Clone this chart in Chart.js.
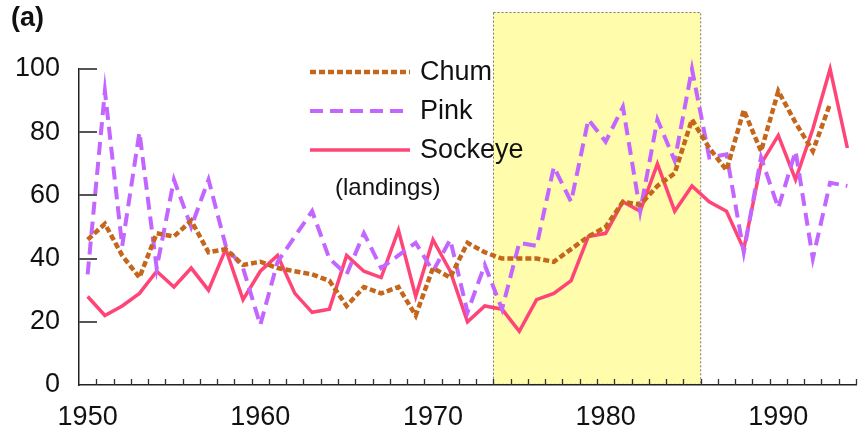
<!DOCTYPE html>
<html>
<head>
<meta charset="utf-8">
<script src="https://cdn.jsdelivr.net/npm/chart.js@4.4.0/dist/chart.umd.min.js"></script>
<style>
  body { margin: 0; background: #fff; }
  canvas { display: block; }
</style>
</head>
<body>
<canvas id="salmonChart" width="858" height="428"></canvas>
<script>
// données (indices de débarquements)
let years = ['1950','1951','1952','1953','1954','1955','1956','1957','1958','1959',
             '1960','1961','1962','1963','1964','1965','1966','1967','1968','1969',
             '1970','1971','1972','1973','1974','1975','1976','1977','1978','1979',
             '1980','1981','1982','1983','1984','1985','1986','1987','1988','1989',
             '1990','1991','1992','1993','1994'];

let chum = [46, 51, 41, 34, 48, 47, 52, 42, 43, 38,
            39, 37, 36, 35, 33, 25, 31, 29, 31, 22,
            37, 34, 45, 42, 40, 40, 40, 39, 43, 47,
            50, 58, 57, 63, 67, 84, 75, 68, 87, 74,
            93, 83, 74, 89, null];

let pink = [35, 93, 44, 80, 37, 65, 50, 65, 44, 37,
            19, 39, 47, 55, 40, 35, 48, 37, 41, 45,
            36, 46, 23, 38, 24, 45, 44, 69, 58, 84,
            77, 88, 55, 84, 71, 100, 72, 73, 42, 72,
            56, 74, 40, 64, 63];

let sockeye = [28, 22, 25, 29, 36, 31, 37, 30, 43, 27,
               36, 41, 29, 23, 24, 41, 36, 34, 49, 28,
               46, 36, 20, 25, 24, 17, 27, 29, 33, 47,
               48, 58, 55, 70, 55, 63, 58, 55, 43, 70,
               79, 65, 81, 100, 75];

let yTicks = [0, 20, 40, 60, 80, 100];
let xLabels = ['1950', '1960', '1970', '1980', '1990'];
let shadeFrom = '1974';   // période surlignée en jaune
let shadeTo = '1985';
let shadeTop = 118;

const FONT = "'Liberation Sans', Arial, Helvetica, sans-serif";

// rectangle jaune en pointillés, dessiné sous les axes
const shadePlugin = {
    id: 'shade',
    beforeDraw(chart) {
        let ctx = chart.ctx, x = chart.scales.x, y = chart.scales.y;
        let left = x.getPixelForValue(years.indexOf(shadeFrom) - 0.5);
        let right = x.getPixelForValue(years.indexOf(shadeTo) + 0.5);
        let top = y.getPixelForValue(shadeTop);
        let bottom = y.getPixelForValue(0);
        ctx.save();
        ctx.fillStyle = '#fffcab';
        ctx.fillRect(left, top, right - left, bottom - top);
        ctx.strokeStyle = '#777';
        ctx.lineWidth = 1;
        ctx.setLineDash([2, 2]);
        ctx.strokeRect(Math.round(left) + 0.5, Math.round(top) + 0.5, right - left, bottom - top - 1);
        ctx.restore();
    }
};

// petites graduations tournées vers l'intérieur
const ticksPlugin = {
    id: 'inTicks',
    afterDraw(chart) {
        let ctx = chart.ctx, x = chart.scales.x, y = chart.scales.y;
        let area = chart.chartArea;
        ctx.save();
        ctx.strokeStyle = '#333';
        ctx.lineWidth = 1.3;
        ctx.beginPath();
        for (let k = 0; k < years.length; k++) {
            let px = Math.round(x.getPixelForValue(k + 0.5)) + 0.5;
            ctx.moveTo(px, area.bottom);
            ctx.lineTo(px, area.bottom - 6);
        }
        ctx.stroke();
        ctx.strokeStyle = '#555';
        ctx.lineWidth = 2;
        ctx.beginPath();
        yTicks.forEach(v => {
            if (v === 0) return;
            let py = Math.round(y.getPixelForValue(v));
            ctx.moveTo(area.left, py);
            ctx.lineTo(area.left + 18, py);
        });
        ctx.stroke();
        ctx.restore();
    }
};

// légende dessinée dans le graphique + "(a)"
const legendPlugin = {
    id: 'inLegend',
    afterDatasetsDraw(chart) {
        let ctx = chart.ctx;
        ctx.save();
        chart.data.datasets.forEach((ds, i) => {
            let ly = 72 + i * 39;
            ctx.strokeStyle = ds.borderColor;
            ctx.lineWidth = ds.borderWidth;
            ctx.setLineDash(ds.borderDash || []);
            ctx.beginPath();
            ctx.moveTo(310, ly);
            ctx.lineTo(410, ly);
            ctx.stroke();
            ctx.setLineDash([]);
            ctx.fillStyle = '#111';
            ctx.font = '27px ' + FONT;
            ctx.textBaseline = 'middle';
            ctx.fillText(ds.label, 420, ly + 1);
        });
        ctx.font = '24px ' + FONT;
        ctx.fillText('(landings)', 335, 188);
        ctx.font = 'bold 27px ' + FONT;
        ctx.fillText('(a)', 11, 19);
        ctx.restore();
    }
};

let ctx = document.getElementById('salmonChart').getContext('2d');
let chart = new Chart(ctx, {
    type: 'line',
    data: {
        labels: years,
        datasets: [
            {
                label: 'Chum',
                data: chum,
                borderColor: '#c4661c',
                borderWidth: 4.5,
                borderDash: [6, 3],
                pointRadius: 0,
                clip: false
            },
            {
                label: 'Pink',
                data: pink,
                borderColor: '#c266ff',
                borderWidth: 4,
                borderDash: [13, 7],
                pointRadius: 0,
                clip: false
            },
            {
                label: 'Sockeye',
                data: sockeye,
                borderColor: '#ff4477',
                borderWidth: 3.5,
                pointRadius: 0,
                clip: false
            }
        ]
    },
    options: {
        responsive: false,
        animation: false,
        layout: { padding: { top: 69, right: 2, left: 0, bottom: 0 } },
        plugins: {
            legend: { display: false },
            tooltip: { enabled: false }
        },
        scales: {
            x: {
                type: 'category',
                offset: true,
                grid: { display: false },
                border: { display: true, color: '#222', width: 1.5 },
                ticks: {
                    autoSkip: false,
                    maxRotation: 0,
                    padding: 8,
                    color: '#111',
                    font: { size: 27, family: FONT },
                    callback: function(val) {
                        let l = this.getLabelForValue(val);
                        return xLabels.includes(l) ? l : '';
                    }
                },
                afterFit: s => { s.height = 43; }
            },
            y: {
                min: 0,
                max: 100,
                grid: { display: false },
                border: { display: true, color: '#222', width: 1.5 },
                ticks: {
                    stepSize: 20,
                    padding: 11,
                    color: '#111',
                    font: { size: 27, family: FONT }
                },
                afterFit: s => { s.width = 79; }
            }
        }
    },
    plugins: [shadePlugin, ticksPlugin, legendPlugin]
});
</script>
</body>
</html>
